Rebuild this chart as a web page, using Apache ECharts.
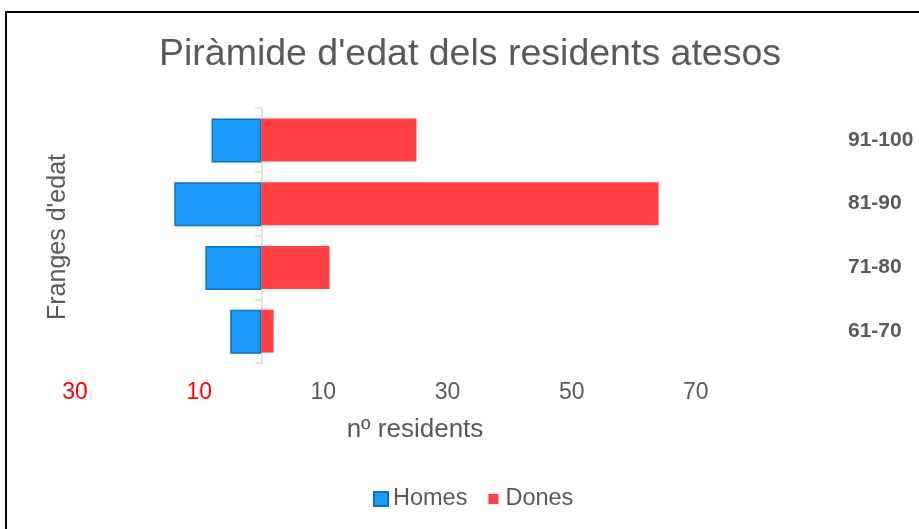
<!DOCTYPE html>
<html>
<head>
<meta charset="utf-8">
<script src="https://cdn.jsdelivr.net/npm/echarts@6/dist/echarts.min.js"></script>
<style>
html,body{margin:0;padding:0;background:#fff;}
#c{width:919px;height:529px;}
</style>
</head>
<body>
<div id="c"></div>
<script>
const categories = ['61-70', '71-80', '81-90', '91-100'];
const homes = [5, 9, 14, 8];
const dones = [2, 11, 64, 25];
const titleText = "Piràmide d'edat dels residents atesos";
const xName = 'nº residents';
const yName = "Franges d'edat";

const chart = echarts.init(document.getElementById('c'));
const grey = '#595959';
chart.setOption({
  animation: false,
  backgroundColor: '#fff',
  graphic: [
    { type: 'rect', z: -1, shape: { x: 6, y: 12, width: 1000, height: 1000 }, style: { fill: 'none', stroke: '#000', lineWidth: 2 } },
    { type: 'text', x: 470, y: 36,
      style: { text: titleText, fontFamily: 'Liberation Sans', fontSize: 37.5, fill: grey, align: 'center', verticalAlign: 'top' } },
    { type: 'text', x: 415, y: 430,
      style: { text: xName, fontFamily: 'Liberation Sans', fontSize: 26, fill: grey, align: 'center', verticalAlign: 'middle' } },
    { type: 'text', x: 58, y: 237, rotation: Math.PI / 2,
      style: { text: yName, fontFamily: 'Liberation Sans', fontSize: 25, fill: grey, align: 'center', verticalAlign: 'middle' } }
  ],
  legend: {
    bottom: 13,
    left: 368,
    itemWidth: 14,
    itemHeight: 14,
    itemGap: 17,
    textStyle: { fontFamily: 'Liberation Sans', fontSize: 23.5, color: grey },
    data: [
      { name: 'Homes', icon: 'rect' },
      { name: 'Dones', icon: 'rect', itemStyle: { borderColor: '#ffffff', borderWidth: 4 } }
    ]
  },
  grid: { left: 75, right: 99, top: 108, bottom: 166 },
  xAxis: {
    type: 'value',
    min: -30,
    max: 90,
    interval: 20,
    splitLine: { show: false },
    axisLine: { show: false },
    axisTick: { show: false },
    axisLabel: {
      showMaxLabel: false,
      margin: 18,
      fontFamily: 'Liberation Sans',
      fontSize: 23,
      formatter: v => String(Math.abs(v)),
      color: v => (v < 0 ? '#ff0000' : grey)
    }
  },
  yAxis: [
    {
      type: 'category',
      data: categories,
      position: 'left',
      axisLine: { onZero: true, lineStyle: { color: '#d9d9d9', width: 1.5 } },
      axisTick: { show: true, length: 6, lineStyle: { color: '#d9d9d9', width: 1.5 } },
      axisLabel: { show: false }
    },
    {
      type: 'category',
      data: categories,
      position: 'right',
      axisLine: { show: false },
      axisTick: { show: false },
      axisLabel: {
        margin: 28,
        align: 'left',
        fontFamily: 'Liberation Sans',
        fontWeight: 'bold',
        fontSize: 21,
        color: grey
      }
    }
  ],
  series: [
    {
      name: 'Homes',
      type: 'bar',
      yAxisIndex: 0,
      barWidth: 44,
      barGap: '-100%',
      data: homes.map(v => -v),
      itemStyle: { color: '#1a9bfc', borderColor: '#0b6fc2', borderWidth: 1.5 }
    },
    {
      name: 'Dones',
      type: 'bar',
      yAxisIndex: 0,
      barWidth: 43,
      barGap: '-100%',
      data: dones,
      itemStyle: { color: '#ff4045' }
    }
  ]
});
</script>
</body>
</html>
